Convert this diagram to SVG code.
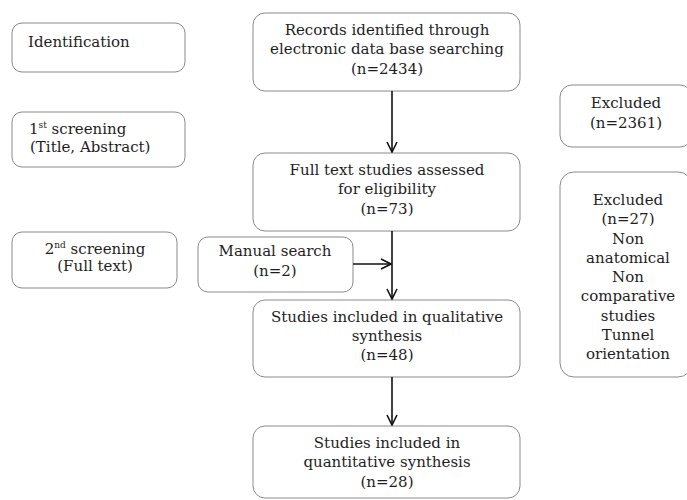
<svg xmlns="http://www.w3.org/2000/svg" width="687" height="500" viewBox="0 0 687 500">
<defs>
<marker id="arr" viewBox="0 0 12 12" refX="11" refY="6" markerWidth="12" markerHeight="12" markerUnits="userSpaceOnUse" orient="auto">
<path d="M1,1 L11,6 L1,11" fill="none" stroke="#111" stroke-width="1.6"/>
</marker>
<style>
.box{fill:#fff;stroke:#8a8a8a;stroke-width:1}
.t{font-family:"DejaVu Serif","Liberation Serif",serif;font-size:15px;fill:#1e1e1e}
.c{text-anchor:middle}
.sup{font-size:9px}
.ln{stroke:#111;stroke-width:1.6;fill:none}
</style>
</defs>
<rect width="687" height="500" fill="#fff"/>
<g id="identification">
<rect class="box" x="12" y="23" width="173" height="49" rx="10"/>
<text class="t" x="28" y="47">Identification</text>
</g>
<g id="screening1">
<rect class="box" x="12" y="112" width="173" height="55" rx="10"/>
<text class="t" x="29" y="134">1<tspan class="sup" dy="-6">st</tspan><tspan dy="6"> screening</tspan></text>
<text class="t" x="30" y="152">(Title, Abstract)</text>
</g>
<g id="screening2">
<rect class="box" x="12" y="232" width="165" height="56" rx="10"/>
<text class="t c" x="95" y="254">2<tspan class="sup" dy="-6">nd</tspan><tspan dy="6"> screening</tspan></text>
<text class="t c" x="95" y="271">(Full text)</text>
</g>
<g id="records">
<rect class="box" x="253" y="13" width="267" height="78" rx="12"/>
<text class="t c" x="387" y="35">Records identified through</text>
<text class="t c" x="387" y="54">electronic data base searching</text>
<text class="t c" x="387" y="74">(n=2434)</text>
</g>
<g id="fulltext">
<rect class="box" x="253" y="153" width="267" height="78" rx="12"/>
<text class="t c" x="387" y="175">Full text studies assessed</text>
<text class="t c" x="387" y="194">for eligibility</text>
<text class="t c" x="387" y="214">(n=73)</text>
</g>
<g id="manual">
<rect class="box" x="198" y="237" width="155" height="55" rx="10"/>
<text class="t c" x="275" y="256">Manual search</text>
<text class="t c" x="275" y="276">(n=2)</text>
</g>
<g id="qualitative">
<rect class="box" x="253" y="300" width="267" height="77" rx="12"/>
<text class="t c" x="387" y="322">Studies included in qualitative</text>
<text class="t c" x="387" y="341">synthesis</text>
<text class="t c" x="387" y="360">(n=48)</text>
</g>
<g id="quantitative">
<rect class="box" x="253" y="426" width="267" height="72" rx="12"/>
<text class="t c" x="387" y="448">Studies included in</text>
<text class="t c" x="387" y="467">quantitative synthesis</text>
<text class="t c" x="387" y="487">(n=28)</text>
</g>
<g id="excluded1">
<rect class="box" x="560" y="85" width="132" height="62" rx="12"/>
<text class="t c" x="626" y="108">Excluded</text>
<text class="t c" x="626" y="128">(n=2361)</text>
</g>
<g id="excluded2">
<rect class="box" x="560" y="172" width="132" height="205" rx="14"/>
<text class="t c" x="628" y="205">Excluded</text>
<text class="t c" x="628" y="224">(n=27)</text>
<text class="t c" x="628" y="244">Non</text>
<text class="t c" x="628" y="263">anatomical</text>
<text class="t c" x="628" y="282">Non</text>
<text class="t c" x="628" y="301">comparative</text>
<text class="t c" x="628" y="321">studies</text>
<text class="t c" x="628" y="340">Tunnel</text>
<text class="t c" x="628" y="359">orientation</text>
</g>
<g id="connectors">
<line class="ln" x1="392" y1="91" x2="392" y2="152" marker-end="url(#arr)"/>
<line class="ln" x1="392" y1="231" x2="392" y2="299" marker-end="url(#arr)"/>
<line class="ln" x1="353" y1="264" x2="391" y2="264" marker-end="url(#arr)"/>
<line class="ln" x1="392" y1="377" x2="392" y2="425" marker-end="url(#arr)"/>
</g>
</svg>
